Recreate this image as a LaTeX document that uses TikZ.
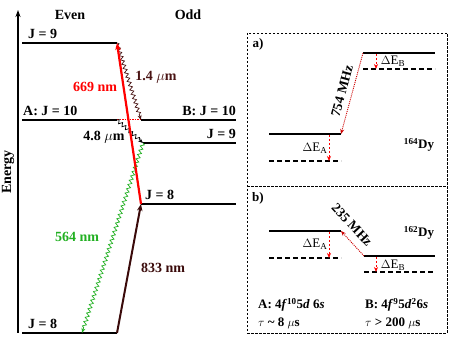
\documentclass[tikz,border=0pt]{standalone}
\usepackage{fontspec}
\setmainfont{Liberation Serif}
\usetikzlibrary{decorations.pathmorphing,arrows.meta}
\definecolor{darkbrown}{HTML}{3A0A0A}
\definecolor{labbrown}{HTML}{4A1414}
\definecolor{myred}{HTML}{FF0000}
\definecolor{mygreen}{HTML}{22B022}
\definecolor{dotred}{HTML}{CC0000}
\begin{document}
\begin{tikzpicture}[x=1pt,y=-1pt,
  lvl/.style={line width=1.6pt},
  plvl/.style={line width=1.3pt},
  pdash/.style={line width=1.3pt, dash pattern=on 5pt off 3pt},
  lbl/.style={font=\fontsize{14}{16}\selectfont\bfseries, inner sep=0pt},
  plbl/.style={font=\fontsize{13}{15}\selectfont, inner sep=0pt},
  pblbl/.style={font=\fontsize{13}{15}\selectfont\bfseries, inner sep=0pt},
  rlbl/.style={font=\fontsize{13.5}{15}\selectfont\bfseries, inner sep=0pt},
  wave/.style={decorate, decoration={snake, amplitude=1.8pt, segment length=4.5pt, post length=4pt}},
  tip/.style={-{Stealth[length=5pt,width=4pt]}},
  dearrow/.style={myred, line width=0.9pt, dash pattern=on 2.5pt off 1.5pt, -{Stealth[length=5pt,width=4pt]}},
  dotarrow/.style={dotred, line width=0.9pt, dash pattern=on 1pt off 1pt, -{Stealth[length=5pt,width=4pt]}},
  panel/.style={line width=0.6pt, dash pattern=on 2.5pt off 1.5pt}]
\useasboundingbox (0,0) rectangle (458,344);
% ---------- coordinates of levels ----------
\coordinate (axb) at (18,333); \coordinate (axt) at (18,10);
\coordinate (E9l) at (22,43);  \coordinate (E9r) at (117,43);
\coordinate (Al) at (22,120);  \coordinate (Ar) at (117,120);
\coordinate (Bl) at (141,120); \coordinate (Br) at (236,120);
\coordinate (O9l) at (143,143); \coordinate (O9r) at (236,143);
\coordinate (O8l) at (141,204); \coordinate (O8r) at (236,204);
\coordinate (G8l) at (22,333); \coordinate (G8r) at (117,333);
\coordinate (G8w) at (82,333);
% ---------- axis ----------
\draw[line width=1.2pt, -{Stealth[length=7pt,width=5pt]}] (axb) -- (axt);
\node[lbl, rotate=90] (en) at (8,172) {Energy};
\node[lbl] (even) at (70,15) {Even};
\node[lbl] (odd) at (188,15) {Odd};
% ---------- levels ----------
\draw[lvl] (E9l) -- (E9r);
\draw[lvl] (Al) -- (Ar);
\draw[myred, line width=1pt, dash pattern=on 1.5pt off 1pt] (Ar) -- (Bl);
\draw[lvl] (Bl) -- (Br);
\draw[lvl] (O9l) -- (O9r);
\draw[lvl] (O8l) -- (O8r);
\draw[lvl] (G8l) -- (G8r);
\node[lbl, anchor=base west] (lE9) at (28,39) {J = 9};
\node[lbl, anchor=base west] (lA) at (23,116) {A: J = 10};
\node[lbl, anchor=base east] (lB) at (236,116) {B: J = 10};
\node[lbl, anchor=base east] (lO9) at (236,139) {J = 9};
\node[lbl, anchor=base west] (lO8) at (145,200) {J = 8};
\node[lbl, anchor=base west] (lG8) at (28,329) {J = 8};
% ---------- transitions ----------
\draw[labbrown, line width=0.7pt, wave, tip] (E9r) -- (Bl);
\draw[black, line width=0.7pt, wave, tip] (Ar) -- (O9l);
\draw[mygreen, line width=0.7pt, wave, tip] (O9l) -- (G8w);
\draw[darkbrown, line width=2pt, -{Stealth[length=7pt,width=5.5pt]}] (G8r) -- (O8l);
\draw[myred, line width=2.2pt, -{Stealth[length=7pt,width=5.5pt]}] (O8l) -- (E9r);
\node[lbl, myred] (l669) at (95,87) {669 nm};
\node[lbl, labbrown] (l14) at (156,77) {1.4 $\mu$m};
\node[lbl] (l48) at (104,137) {4.8 $\mu$m};
\node[lbl, mygreen] (l564) at (77,237) {564 nm};
\node[lbl, darkbrown] (l833) at (163,268) {833 nm};
% ---------- panels ----------
\draw[panel] (247,33) rectangle (447,333);
\draw[panel] (247,186) -- (447,186);
\node[pblbl] (pa) at (258,44) {a)};
\node[pblbl] (pb) at (258,198) {b)};
% panel a
\coordinate (aBsl) at (363,53); \coordinate (aBsr) at (435,53);
\coordinate (aBdl) at (363,69); \coordinate (aBdr) at (435,69);
\coordinate (aAsl) at (269,134); \coordinate (aAsr) at (341,134);
\coordinate (aAdl) at (269,161); \coordinate (aAdr) at (341,161);
\draw[plvl] (aBsl) -- (aBsr);
\draw[pdash] (aBdl) -- (aBdr);
\draw[plvl] (aAsl) -- (aAsr);
\draw[pdash] (aAdl) -- (aAdr);
\coordinate (aeB1) at (376,54); \coordinate (aeB2) at (376,69);
\coordinate (aeA1) at (329,135); \coordinate (aeA2) at (329,161);
\draw[dearrow] (aeB1) -- (aeB2);
\draw[dearrow] (aeA1) -- (aeA2);
\draw[dotarrow] (aBsl) -- (aAsr);
\node[plbl] (aEB) at (393,61) {$\Delta$E$_{\mathrm{B}}$};
\node[plbl] (aEA) at (315,148) {$\Delta$E$_{\mathrm{A}}$};
\node[rlbl, rotate=75] (a754) at (342,91) {754 MHz};
\node[pblbl] (aDy) at (419,145) {$^{\mathbf{164}}$Dy};
% panel b
\coordinate (bAsl) at (269,231); \coordinate (bAsr) at (341,231);
\coordinate (bAdl) at (269,258); \coordinate (bAdr) at (341,258);
\coordinate (bBsl) at (364,256); \coordinate (bBsr) at (435,256);
\coordinate (bBdl) at (364,272); \coordinate (bBdr) at (435,272);
\draw[plvl] (bAsl) -- (bAsr);
\draw[pdash] (bAdl) -- (bAdr);
\draw[plvl] (bBsl) -- (bBsr);
\draw[pdash] (bBdl) -- (bBdr);
\coordinate (beA1) at (329,232); \coordinate (beA2) at (329,258);
\coordinate (beB1) at (376,257); \coordinate (beB2) at (376,272);
\draw[dearrow] (beA1) -- (beA2);
\draw[dearrow] (beB1) -- (beB2);
\draw[dotarrow] (bBsl) -- (bAsr);
\node[plbl] (bEA) at (315,244) {$\Delta$E$_{\mathrm{A}}$};
\node[plbl] (bEB) at (393,265) {$\Delta$E$_{\mathrm{B}}$};
\node[rlbl, rotate=-47] (b235) at (352,225) {235 MHz};
\node[pblbl] (bDy) at (419,233) {$^{\mathbf{162}}$Dy};
\node[pblbl, anchor=base west] (cA) at (258,309) {A: 4\textit{f}$^{\mathbf{10}}$5\textit{d} 6\textit{s}};
\node[pblbl, anchor=base west] (cB) at (365,309) {B: 4\textit{f}$^{\mathbf{9}}$5\textit{d}$^{\mathbf{2}}$6\textit{s}};
\node[pblbl, anchor=base west] (tA) at (258,327) {$\tau$ \textasciitilde{} 8 $\mu$s};
\node[pblbl, anchor=base west] (tB) at (365,327) {$\tau$ > 200 $\mu$s};
\end{tikzpicture}
\end{document}
